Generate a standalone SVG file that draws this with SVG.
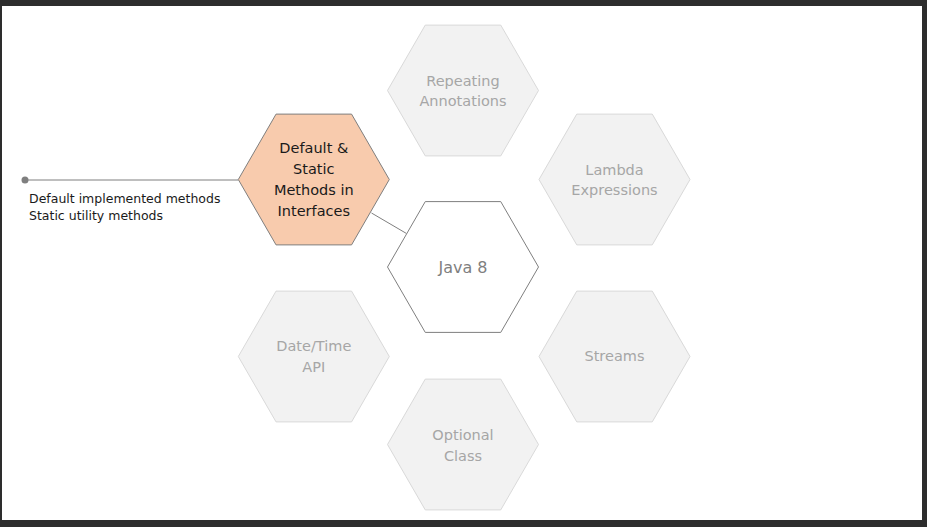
<svg xmlns="http://www.w3.org/2000/svg" xmlns:xlink="http://www.w3.org/1999/xlink" width="927" height="527" viewBox="0 0 927 527">
  <style>
    .hex-gray { fill: #f2f2f2; stroke: #d9d9d9; stroke-width: 1; }
    .hex-main { fill: #ffffff; stroke: #7f7f7f; stroke-width: 1; }
    .hex-sel { fill: #f8cbad; stroke: #7f7f7f; stroke-width: 1; }
    .t { font-family: "DejaVu Sans", Verdana, sans-serif; font-size: 14.5px; text-anchor: middle; }
    .t-gray { fill: #a6a6a6; }
    .t-sel { fill: #1a1a1a; }
    .t-main { fill: #7f7f7f; font-size: 16px; }
    .note { font-family: "DejaVu Sans", Verdana, sans-serif; font-size: 12.5px; fill: #1a1a1a; }
    .conn { stroke: #7f7f7f; stroke-width: 1; fill: none; }
  </style>
  <defs>
    <polygon id="hex" points="-75.5,0 -37.75,-65.4 37.75,-65.4 75.5,0 37.75,65.4 -37.75,65.4"/>
  </defs>
  <rect x="0" y="0" width="927" height="527" fill="#2d2d2d"/>
  <rect x="2" y="6" width="920" height="514" fill="#ffffff"/>

  <g id="connectors">
    <line class="conn" x1="25" y1="180" x2="238.3" y2="180"/>
    <circle cx="25" cy="180" r="3.5" fill="#7f7f7f"/>
    <line class="conn" x1="371.5" y1="213" x2="406.5" y2="233.5"/>
  </g>

  <g id="node-repeating">
    <use xlink:href="#hex" class="hex-gray" x="463" y="90.5"/>
    <text class="t t-gray" x="463" y="85.5">Repeating</text>
    <text class="t t-gray" x="463" y="106">Annotations</text>
  </g>
  <g id="node-lambda">
    <use xlink:href="#hex" class="hex-gray" x="614.5" y="179.5"/>
    <text class="t t-gray" x="614.5" y="174.5">Lambda</text>
    <text class="t t-gray" x="614.5" y="195">Expressions</text>
  </g>
  <g id="node-streams">
    <use xlink:href="#hex" class="hex-gray" x="614.5" y="356.5"/>
    <text class="t t-gray" x="614.5" y="361">Streams</text>
  </g>
  <g id="node-optional">
    <use xlink:href="#hex" class="hex-gray" x="463" y="444.5"/>
    <text class="t t-gray" x="463" y="440.3">Optional</text>
    <text class="t t-gray" x="463" y="460.8">Class</text>
  </g>
  <g id="node-datetime">
    <use xlink:href="#hex" class="hex-gray" x="313.8" y="356.5"/>
    <text class="t t-gray" x="313.8" y="351">Date/Time</text>
    <text class="t t-gray" x="313.8" y="371.5">API</text>
  </g>
  <g id="node-default">
    <use xlink:href="#hex" class="hex-sel" x="313.8" y="179.5"/>
    <text class="t t-sel" x="313.8" y="152.5">Default &amp;</text>
    <text class="t t-sel" x="313.8" y="173.5">Static</text>
    <text class="t t-sel" x="313.8" y="194.5">Methods in</text>
    <text class="t t-sel" x="313.8" y="215.5">Interfaces</text>
  </g>
  <g id="node-java8">
    <use xlink:href="#hex" class="hex-main" x="463" y="267"/>
    <text class="t t-main" x="463" y="272.5">Java 8</text>
  </g>
  <g id="note">
    <text class="note" x="29" y="203">Default implemented methods</text>
    <text class="note" x="29" y="220">Static utility methods</text>
  </g>
</svg>
